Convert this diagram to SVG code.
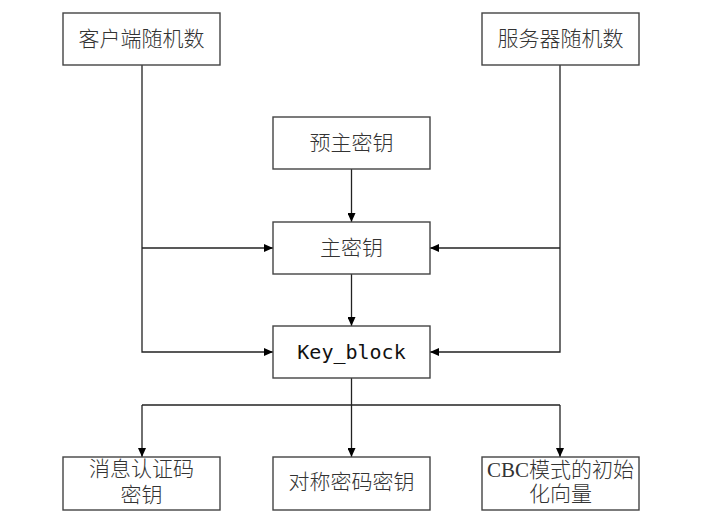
<svg xmlns="http://www.w3.org/2000/svg" width="711" height="527" viewBox="0 0 711 527">
<defs>
<marker id="arr" markerWidth="9" markerHeight="8" refX="9" refY="4" orient="auto" markerUnits="userSpaceOnUse">
<path d="M0,0 L9,4 L0,8 z" fill="#000"/>
</marker>
<style>
.box{fill:#fff;stroke:#444;stroke-width:1.4}
.t{font-family:"Noto Sans CJK SC",sans-serif;font-size:21px;fill:#333;text-anchor:middle;font-weight:300}
.s{font-family:"Liberation Serif","Noto Sans CJK SC",serif;font-size:21px;fill:#333;text-anchor:middle;font-weight:300}
.m{font-family:"DejaVu Sans Mono",monospace;font-size:20px;fill:#111;text-anchor:middle}
.c{fill:none;stroke:#222;stroke-width:1.3}
</style>
</defs>
<rect width="711" height="527" fill="#fff"/>
<g id="connectors">
<path class="c" d="M142,65 V352 H273" marker-end="url(#arr)"/>
<path class="c" d="M142,248 H273" marker-end="url(#arr)"/>
<path class="c" d="M560,65 V352 H430" marker-end="url(#arr)"/>
<path class="c" d="M560,248 H430" marker-end="url(#arr)"/>
<path class="c" d="M351.5,169 V222" marker-end="url(#arr)"/>
<path class="c" d="M351.5,274 V326" marker-end="url(#arr)"/>
<path class="c" d="M351.5,378 V457" marker-end="url(#arr)"/>
<path class="c" d="M142,405 H560"/>
<path class="c" d="M142,405 V457" marker-end="url(#arr)"/>
<path class="c" d="M560,405 V457" marker-end="url(#arr)"/>
</g>
<g id="client">
<rect class="box" x="63" y="13" width="157" height="52"/>
<text class="t" x="141.5" y="46">客户端随机数</text>
</g>
<g id="server">
<rect class="box" x="482" y="13" width="157" height="52"/>
<text class="t" x="560.5" y="46">服务器随机数</text>
</g>
<g id="premaster">
<rect class="box" x="273" y="117" width="157" height="52"/>
<text class="t" x="351.5" y="150">预主密钥</text>
</g>
<g id="master">
<rect class="box" x="273" y="222" width="157" height="52"/>
<text class="t" x="351.5" y="255">主密钥</text>
</g>
<g id="keyblock">
<rect class="box" x="273" y="326" width="157" height="52"/>
<text class="m" x="351.5" y="359">Key_block</text>
</g>
<g id="mac">
<rect class="box" x="63" y="457" width="157" height="53"/>
<text class="s" x="141.5" y="476">消息认证码</text>
<text class="s" x="141.5" y="502">密钥</text>
</g>
<g id="sym">
<rect class="box" x="273" y="457" width="157" height="53"/>
<text class="s" x="351.5" y="489">对称密码密钥</text>
</g>
<g id="iv">
<rect class="box" x="482" y="457" width="157" height="53"/>
<text class="s" x="560.5" y="477">CBC模式的初始</text>
<text class="s" x="560.5" y="501">化向量</text>
</g>
</svg>
